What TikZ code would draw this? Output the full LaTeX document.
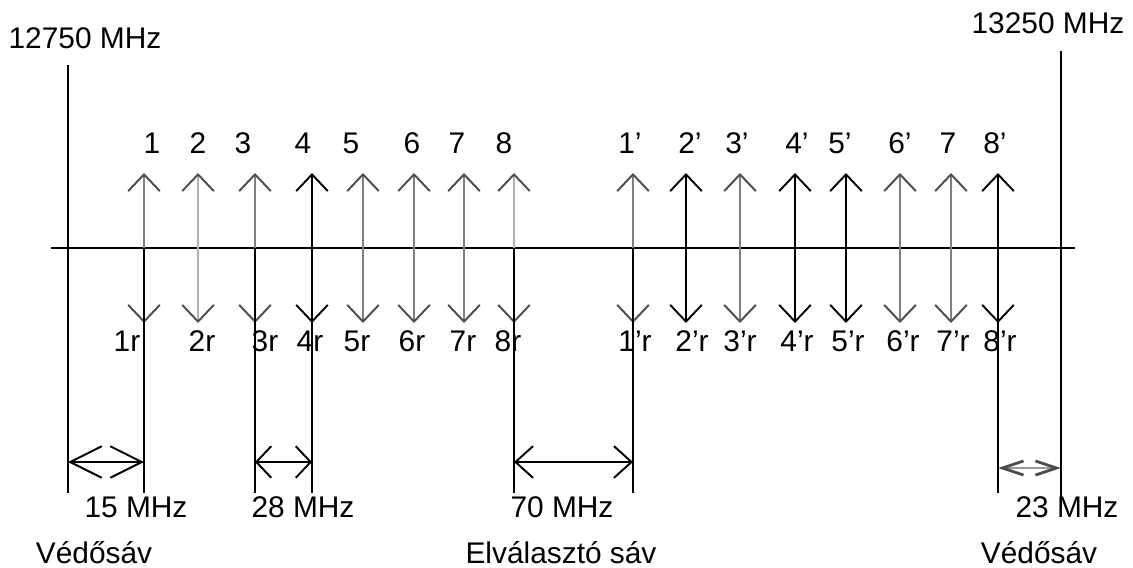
\documentclass[tikz,border=0pt]{standalone}
\usepackage{fontspec}
\setmainfont{Liberation Sans}
\usetikzlibrary{arrows.meta}
\colorlet{chgray}{black!50}
\colorlet{chlight}{black!30}
\colorlet{tipgray}{black!70}
\tikzset{
  lbl/.style={anchor=base, inner sep=0pt, font=\fontsize{17}{19}\selectfont},
  chan/.style={{Straight Barb[length=9.5pt,width=18pt,color=#1]}-{Straight Barb[length=9.5pt,width=18pt,color=#1]}},
  mhz/.style={{Straight Barb[length=#1,width=18pt]}-{Straight Barb[length=#1,width=18pt]}},
}
\begin{document}
\begin{tikzpicture}[x=0.02cm, y=-0.02cm, line width=1.1pt]
\useasboundingbox (0,0) rectangle (1133,568);
% frequency axis and band edges
\coordinate (axisL) at (51,248);
\coordinate (axisR) at (1075,248);
\coordinate (lotop) at (68,65);
\coordinate (lobot) at (68,493);
\coordinate (hitop) at (1061,51);
\coordinate (hibot) at (1061,508);
\draw (axisL) -- (axisR);
\draw (lotop) -- (lobot);
\draw (hitop) -- (hibot);
\node[lbl] (flo) at (85,49) {12750 MHz};
\node[lbl] (fhi) at (1048,33) {13250 MHz};
% channels
\foreach \x/\tx/\bx/\c/\h/\t/\b [count=\i] in {
  144/152/127/chgray/tipgray/1/1r, 198/198/202/chlight/tipgray/2/2r,
  255/243/265/chgray/tipgray/3/3r, 312/303/310/black/black/4/4r,
  363/351/357/chgray/tipgray/5/5r, 414/412/412/chgray/tipgray/6/6r,
  464/457/463/chgray/tipgray/7/7r, 514/504/508/chlight/tipgray/8/8r,
  633/630/635/chgray/tipgray/1’/1’r, 686/690/692/black/black/2’/2’r,
  740/737/740/chgray/tipgray/3’/3’r, 795/797/797/black/black/4’/4’r,
  846/840/848/black/black/5’/5’r, 900/900/903/chgray/tipgray/6’/6’r,
  951/948/953/chgray/tipgray/7/7’r, 998/995/1000/black/black/8’/8’r}
{
	\coordinate (up\i) at (\x,173);
	\coordinate (dn\i) at (\x,323);
	\draw[chan=\h, \c] (dn\i) -- (up\i);
	\node[lbl] (t\i) at (\tx,153) {\t};
	\node[lbl] (b\i) at (\bx,351) {\b};
}
% boundary lines of the gaps
\foreach \x [count=\j] in {144,255,312,514,633,998}
{
	\coordinate (s\j) at (\x,248);
	\coordinate (e\j) at (\x,493);
	\draw (s\j) -- (e\j);
}
\coordinate (m1a) at (68,462);
\coordinate (m1b) at (144,462);
\coordinate (m2a) at (255,462);
\coordinate (m2b) at (312,462);
\coordinate (m3a) at (514,462);
\coordinate (m3b) at (633,462);
\coordinate (m4a) at (998,468);
\coordinate (m4b) at (1061,468);
\draw[mhz=18pt] (m1a) -- (m1b);
\draw[mhz=8.5pt] (m2a) -- (m2b);
\draw[mhz=10pt] (m3a) -- (m3b);
\draw[black!40, line width=1.6pt, {Straight Barb[length=12pt,width=8pt,color=tipgray]}-{Straight Barb[length=12pt,width=8pt,color=tipgray]}] (m4a) -- (m4b);
\node[lbl] (w15) at (136,517) {15 MHz};
\node[lbl] (w28) at (303,517) {28 MHz};
\node[lbl] (w70) at (562,517) {70 MHz};
\node[lbl] (w23) at (1067,517) {23 MHz};
\node[lbl] (guardlo) at (94,563) {Védősáv};
\node[lbl] (sep) at (561,563) {Elválasztó sáv};
\node[lbl] (guardhi) at (1039,563) {Védősáv};
\end{tikzpicture}
\end{document}
